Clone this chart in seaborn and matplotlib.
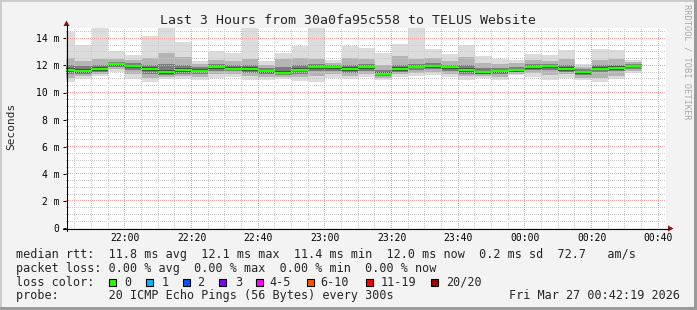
import numpy as np
import pandas as pd
import matplotlib
matplotlib.use("Agg")
import matplotlib.pyplot as plt
from matplotlib.patches import Rectangle, Polygon
from matplotlib.lines import Line2D
import seaborn as sns

# ---------------- data ----------------
title = "Last 3 Hours from 30a0fa95c558 to TELUS Website"
window_start = pd.Timestamp("2026-03-26 21:42:19")
window_end = pd.Timestamp("2026-03-27 00:42:19")
bar_ends = pd.date_range("2026-03-26 21:45", "2026-03-27 00:35", freq="5min")

median = [11.63, 11.57, 11.71, 12.07, 11.94, 11.70, 11.48, 11.64, 11.58, 11.86,
          11.77, 11.71, 11.57, 11.47, 11.69, 11.87, 11.86, 11.71, 11.87, 11.36,
          11.72, 11.88, 11.94, 11.87, 11.63, 11.49, 11.56, 11.63, 11.86, 11.92,
          11.72, 11.49, 11.77, 11.79, 11.95]
smoke_max = [14.48, 13.48, 14.75, 13.03, 12.74, 14.17, 14.80, 13.70, 12.30, 13.03,
             12.91, 14.80, 12.30, 12.91, 13.43, 14.80, 12.42, 13.43, 13.28, 12.91,
             13.57, 14.80, 13.18, 12.82, 13.48, 12.66, 12.46, 12.42, 12.82, 12.74,
             13.11, 12.07, 13.20, 13.11, 12.42]
smoke_min = [10.77, 11.02, 11.19, 11.50, 11.02, 10.80, 11.00, 11.00, 10.90, 11.10,
             11.15, 10.95, 10.90, 11.00, 10.85, 10.77, 11.10, 11.00, 11.15, 10.90,
             11.12, 11.24, 11.30, 11.15, 10.95, 11.10, 10.95, 11.26, 11.15, 10.90,
             11.10, 10.95, 10.77, 11.00, 11.45]
upper2 = [12.55, 12.35, 12.45, 12.45, 12.40, 12.55, 12.95, 12.60, 12.10, 12.40,
          12.35, 12.50, 12.05, 12.45, 12.55, 12.50, 12.20, 12.55, 12.45, 12.00,
          12.70, 12.50, 12.55, 12.35, 12.60, 12.20, 12.10, 12.15, 12.40, 12.35,
          12.45, 11.90, 12.40, 12.45, 12.25]
lower2 = [11.05, 11.20, 11.35, 11.70, 11.35, 11.10, 11.15, 11.25, 11.15, 11.40,
          11.40, 11.25, 11.15, 11.15, 11.15, 11.20, 11.40, 11.25, 11.35, 11.05,
          11.35, 11.45, 11.50, 11.40, 11.20, 11.25, 11.15, 11.40, 11.45, 11.30,
          11.35, 11.10, 11.10, 11.25, 11.60]
upper3 = [12.05, 11.95, 12.05, 12.25, 12.15, 12.05, 12.10, 12.00, 11.85, 12.10,
          12.05, 12.05, 11.80, 11.85, 12.00, 12.10, 12.05, 12.05, 12.10, 11.65,
          12.05, 12.10, 12.15, 12.05, 12.05, 11.80, 11.80, 11.85, 12.10, 12.10,
          12.00, 11.70, 12.05, 12.05, 12.10]
lower3 = [11.35, 11.35, 11.50, 11.85, 11.65, 11.40, 11.30, 11.40, 11.35, 11.60,
          11.55, 11.45, 11.35, 11.30, 11.40, 11.55, 11.60, 11.45, 11.60, 11.20,
          11.50, 11.65, 11.70, 11.60, 11.40, 11.35, 11.35, 11.50, 11.65, 11.65,
          11.50, 11.30, 11.50, 11.55, 11.75]
upper4 = [11.78, 11.72, 11.85, 12.15, 12.05, 11.85, 11.65, 11.78, 11.70, 11.98,
          11.90, 11.85, 11.68, 11.62, 11.82, 11.98, 11.95, 11.85, 11.98, 11.48,
          11.85, 11.98, 12.05, 11.98, 11.78, 11.60, 11.68, 11.75, 11.98, 12.03,
          11.85, 11.60, 11.90, 11.92, 12.05]
lower4 = [11.50, 11.45, 11.60, 11.98, 11.82, 11.58, 11.38, 11.52, 11.48, 11.75,
          11.66, 11.60, 11.47, 11.38, 11.57, 11.75, 11.76, 11.60, 11.76, 11.27,
          11.60, 11.78, 11.84, 11.76, 11.52, 11.40, 11.45, 11.53, 11.75, 11.82,
          11.60, 11.38, 11.66, 11.68, 11.86]

y_ticks = [0, 2, 4, 6, 8, 10, 12, 14]
y_tick_labels = ["0", "2 m", "4 m", "6 m", "8 m", "10 m", "12 m", "14 m"]
x_tick_times = ["2026-03-26 22:00", "2026-03-26 22:20", "2026-03-26 22:40",
                "2026-03-26 23:00", "2026-03-26 23:20", "2026-03-26 23:40",
                "2026-03-27 00:00", "2026-03-27 00:20", "2026-03-27 00:40"]
x_tick_labels = ["22:00", "22:20", "22:40", "23:00", "23:20", "23:40",
                 "00:00", "00:20", "00:40"]

legend_rtt = "median rtt:  11.8 ms avg  12.1 ms max  11.4 ms min  12.0 ms now  0.2 ms sd  72.7   am/s"
legend_loss = "packet loss: 0.00 % avg  0.00 % max  0.00 % min  0.00 % now"
legend_probe = "probe:       20 ICMP Echo Pings (56 Bytes) every 300s"
stamp = "Fri Mar 27 00:42:19 2026"
loss_labels = ["0", "1", "2", "3", "4-5", "6-10", "11-19", "20/20"]
loss_colors = ["#26ff00", "#00b8ff", "#0059ff", "#7e00ff", "#ff00ff",
               "#ff5500", "#ff0000", "#a10000"]

# ---------------- style ----------------
sns.set_style("white")
plt.rcParams["font.family"] = ["DejaVu Sans Mono"]

W, H = 697, 310
BG = "#f3f3f3"
fig = plt.figure(figsize=(W / 100, H / 100), dpi=100, facecolor=BG)

def fx(x):
    return x / W

def fy(y):
    return 1 - y / H

PX_LEFT, PX_TOP, PW, PH = 66, 28, 600, 200
PX_PER_MS = 13.55
ax = fig.add_axes([fx(PX_LEFT), fy(PX_TOP + PH), PW / W, PH / H])
ax.set_facecolor("white")
for s in ax.spines.values():
    s.set_visible(False)

def mins(ts):
    return (pd.Timestamp(ts) - window_start).total_seconds() / 60.0

total = mins(window_end)
ymax = PH / PX_PER_MS
ends = np.array([mins(t) for t in bar_ends])
starts = np.concatenate([[0.0], ends[:-1]])
widths = ends - starts

layers = [(smoke_min, smoke_max, "#dcdcdc"),
          (lower2, upper2, "#b4b4b4"),
          (lower3, upper3, "#7c7c7c"),
          (lower4, upper4, "#3e3e3e")]
for lo, hi, col in layers:
    lo = np.array(lo)
    hi = np.array(hi)
    ax.bar(starts, hi - lo, bottom=lo, width=widths, align="edge",
           color=col, linewidth=0, zorder=2)

# dotted grid as a pixel overlay (rrdtool draws it over the smoke)
minor_x = [v for v in np.arange(mins("2026-03-26 21:45"), total + 0.01, 5)]
major_x = [mins(t) for t in x_tick_times]
minor_y = list(np.arange(0.5, ymax, 0.5))
major_y = y_ticks[1:]
grid = np.zeros((PH, PW, 4))
MINOR = np.array([0.79, 0.79, 0.79, 1.0])
MAJOR = np.array([0.97, 0.63, 0.63, 1.0])
def col_of(t):
    return int(np.floor(t / total * PW))
def row_of(v):
    return int(np.floor(PH - v * PX_PER_MS))
rows_idx = np.arange(PH)
cols_idx = np.arange(PW)
for v, c in [(v, MINOR) for v in minor_y] + [(v, MAJOR) for v in major_y]:
    r = row_of(v)
    if 0 <= r < PH:
        grid[r, cols_idx[cols_idx % 2 == 0]] = c
for t, c in [(t, MINOR) for t in minor_x] + [(t, MAJOR) for t in major_x]:
    j = col_of(t)
    if 0 <= j < PW:
        grid[rows_idx[rows_idx % 2 == 1], j] = c
ax.imshow(grid, extent=(0, total, 0, ymax), origin="upper", aspect="auto",
          interpolation="nearest", zorder=3)

# median segments via seaborn
rows = []
for i, m in enumerate(median):
    rows.append({"t": starts[i], "rtt": m, "bar": i})
    rows.append({"t": ends[i], "rtt": m, "bar": i})
df = pd.DataFrame(rows)
sns.lineplot(data=df, x="t", y="rtt", units="bar", estimator=None,
             color=loss_colors[0], linewidth=1.7, ax=ax, legend=False,
             zorder=5, solid_capstyle="butt")

ax.set_xlim(0, total)
ax.set_ylim(0, ymax)
ax.set_xticks(major_x)
ax.set_xticklabels(x_tick_labels)
ax.set_yticks(y_ticks)
ax.set_yticklabels(y_tick_labels)
ax.tick_params(axis="x", length=0, pad=3.4, labelsize=7, colors="black")
ax.tick_params(axis="y", length=2, width=0.7, pad=2.5, labelsize=7,
               colors="black", left=True)
ax.set_xlabel("")
ax.set_ylabel("")

# axis lines and arrows
ARROW = "#8b1010"
fig.add_artist(Line2D([fx(63), fx(668)], [fy(228.5), fy(228.5)], color="black", lw=0.8))
fig.add_artist(Line2D([fx(66.5), fx(66.5)], [fy(231), fy(25)], color="black", lw=0.8))
fig.add_artist(Polygon([(fx(673.5), fy(228.5)), (fx(668), fy(225.5)), (fx(668), fy(231.5))],
                       closed=True, color=ARROW, lw=0))
fig.add_artist(Polygon([(fx(66.5), fy(20.5)), (fx(63.5), fy(26)), (fx(69.5), fy(26))],
                       closed=True, color=ARROW, lw=0))

# frame shading
fig.add_artist(Rectangle((0, fy(2)), 1, 2 / H, transform=fig.transFigure, color="#cbcbcb", lw=0))
fig.add_artist(Rectangle((0, 0), 2 / W, 1, transform=fig.transFigure, color="#cbcbcb", lw=0))
fig.add_artist(Rectangle((0, 0), 1, 3 / H, transform=fig.transFigure, color="#9a9a9a", lw=0))
fig.add_artist(Rectangle((fx(W - 3), 0), 3 / W, 1, transform=fig.transFigure, color="#9a9a9a", lw=0))

# texts
fig.text(fx(348.5), fy(23.5), title, ha="center", va="baseline", fontsize=9.5)
fig.text(fx(11), fy(126.5), "Seconds", rotation=90, ha="center", va="center", fontsize=8)
fig.text(fx(687), fy(4), "RRDTOOL / TOBI OETIKER", rotation=270, ha="center", va="top",
         fontsize=6.3, color="#a8a8a8")

fig.text(fx(16), fy(258.4), legend_rtt, ha="left", va="baseline", fontsize=8.5)
fig.text(fx(16), fy(272.0), legend_loss, ha="left", va="baseline", fontsize=8.5)
fig.text(fx(16), fy(285.7), "loss color:", ha="left", va="baseline", fontsize=8.5)
fig.text(fx(16), fy(299.4), legend_probe, ha="left", va="baseline", fontsize=8.5)
fig.text(fx(680), fy(299.4), stamp, ha="right", va="baseline", fontsize=8.5)

box_x = [108.7, 145.7, 182.7, 219.3, 256.0, 307.3, 365.7, 430.7]
lab_x = [124.0, 161.7, 196.7, 235.0, 269.3, 320.7, 380.7, 445.7]
for bx, lx, lab, col in zip(box_x, lab_x, loss_labels, loss_colors):
    fig.add_artist(Rectangle((fx(bx), fy(286.3)), 7 / W, 7.5 / H, transform=fig.transFigure,
                             facecolor=col, edgecolor="black", lw=0.8))
    fig.text(fx(lx), fy(285.7), lab, ha="left", va="baseline", fontsize=8.5)

fig.savefig("out.png", dpi=100, facecolor=BG)
